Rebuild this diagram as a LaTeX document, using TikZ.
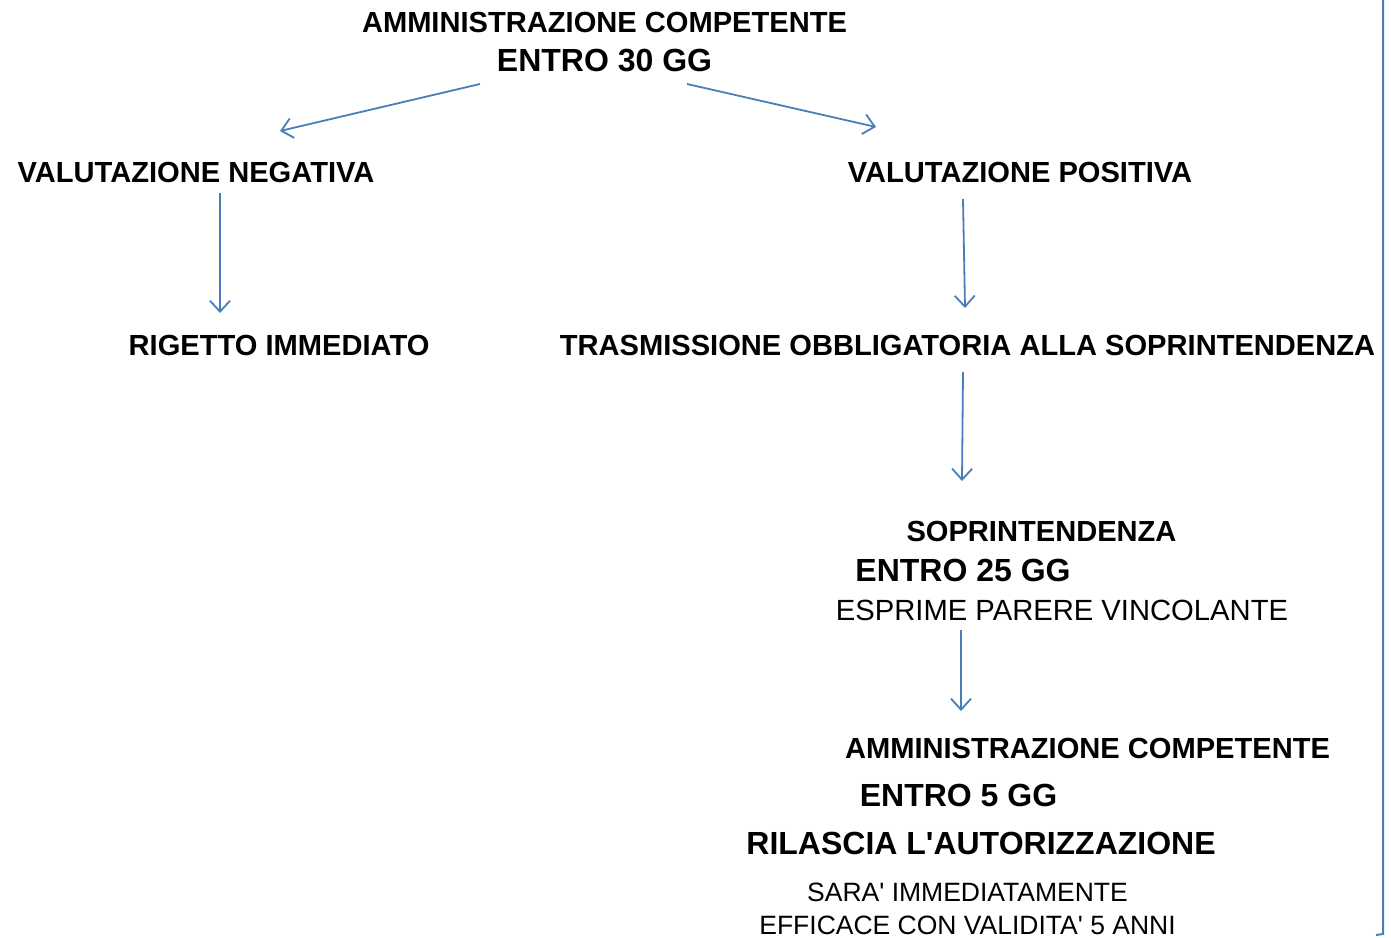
\documentclass[tikz,border=0pt]{standalone}
\usepackage{fontspec}
\setmainfont{Liberation Sans}
\usetikzlibrary{positioning}
\usetikzlibrary{arrows.meta}
\definecolor{arrowblue}{RGB}{74,126,187}

\begin{document}
\begin{tikzpicture}[x=1pt,y=-1pt]
  \tikzset{Titolo/.style={inner sep=0pt, text depth=0pt, font=\fontsize{29.1}{34}\selectfont\bfseries}};
  \tikzset{Termine/.style={inner sep=0pt, text depth=0pt, font=\fontsize{32}{38}\selectfont\bfseries}};
  \tikzset{Nota/.style={inner sep=0pt, text depth=0pt, font=\fontsize{29.2}{34}\selectfont}};
  \tikzset{Nota2/.style={inner sep=0pt, text depth=0pt, font=\fontsize{26.5}{31}\selectfont}};
  \tikzset{Freccia/.style={draw=arrowblue, line width=1.8pt, -{Straight Barb[length=11pt,width=20pt]}}};
  \useasboundingbox (0,0) rectangle (1391,937);
  \node[Titolo] (a) at (604.5,22) {AMMINISTRAZIONE COMPETENTE};
  \node[Termine][below=17pt of a] (b) {ENTRO 30 GG};
  \node[Titolo] (c) at (196,172) {VALUTAZIONE NEGATIVA};
  \node[Titolo] (d) at (1020,172) {VALUTAZIONE POSITIVA};
  \node[Titolo] (e) at (279,345) {RIGETTO IMMEDIATO};
  \node[Titolo] (f) at (967.5,345) {TRASMISSIONE OBBLIGATORIA ALLA SOPRINTENDENZA};
  \node[Titolo] (g) at (1041.5,531) {SOPRINTENDENZA};
  \node[Termine] (h) at (963,570) {ENTRO 25 GG};
  \node[Nota] (i) at (1062,610) {ESPRIME PARERE VINCOLANTE};
  \node[Titolo] (j) at (1087.5,748) {AMMINISTRAZIONE COMPETENTE};
  \node[Termine] (k) at (958.5,795) {ENTRO 5 GG};
  \node[Termine] (l) at (981,843) {RILASCIA L\textquotesingle AUTORIZZAZIONE};
  \node[Nota2] (m) at (967.5,892) {SARA\textquotesingle{} IMMEDIATAMENTE};
  \node[Nota2][below=14pt of m] (n) {EFFICACE CON VALIDITA\textquotesingle{} 5 ANNI};
  % punti delle frecce
  \coordinate (b1) at (480,84);
  \coordinate (c1) at (280,131);
  \coordinate (b2) at (687,84);
  \coordinate (d1) at (876,127);
  \coordinate (c2) at (220,193);
  \coordinate (e1) at (220,313);
  \coordinate (d2) at (963,199);
  \coordinate (f1) at (965,308);
  \coordinate (f2) at (963,372);
  \coordinate (g1) at (962,481);
  \coordinate (i1) at (961,630);
  \coordinate (j1) at (961,711);
  \draw[Freccia] (b1) -- (c1);
  \draw[Freccia] (b2) -- (d1);
  \draw[Freccia] (c2) -- (e1);
  \draw[Freccia] (d2) -- (f1);
  \draw[Freccia] (f2) -- (g1);
  \draw[Freccia] (i1) -- (j1);
  % bordo destro
  \draw[draw=arrowblue, line width=2pt] (1383,0) -- (1383,934) -- (1376,935);
\end{tikzpicture}
\end{document}
